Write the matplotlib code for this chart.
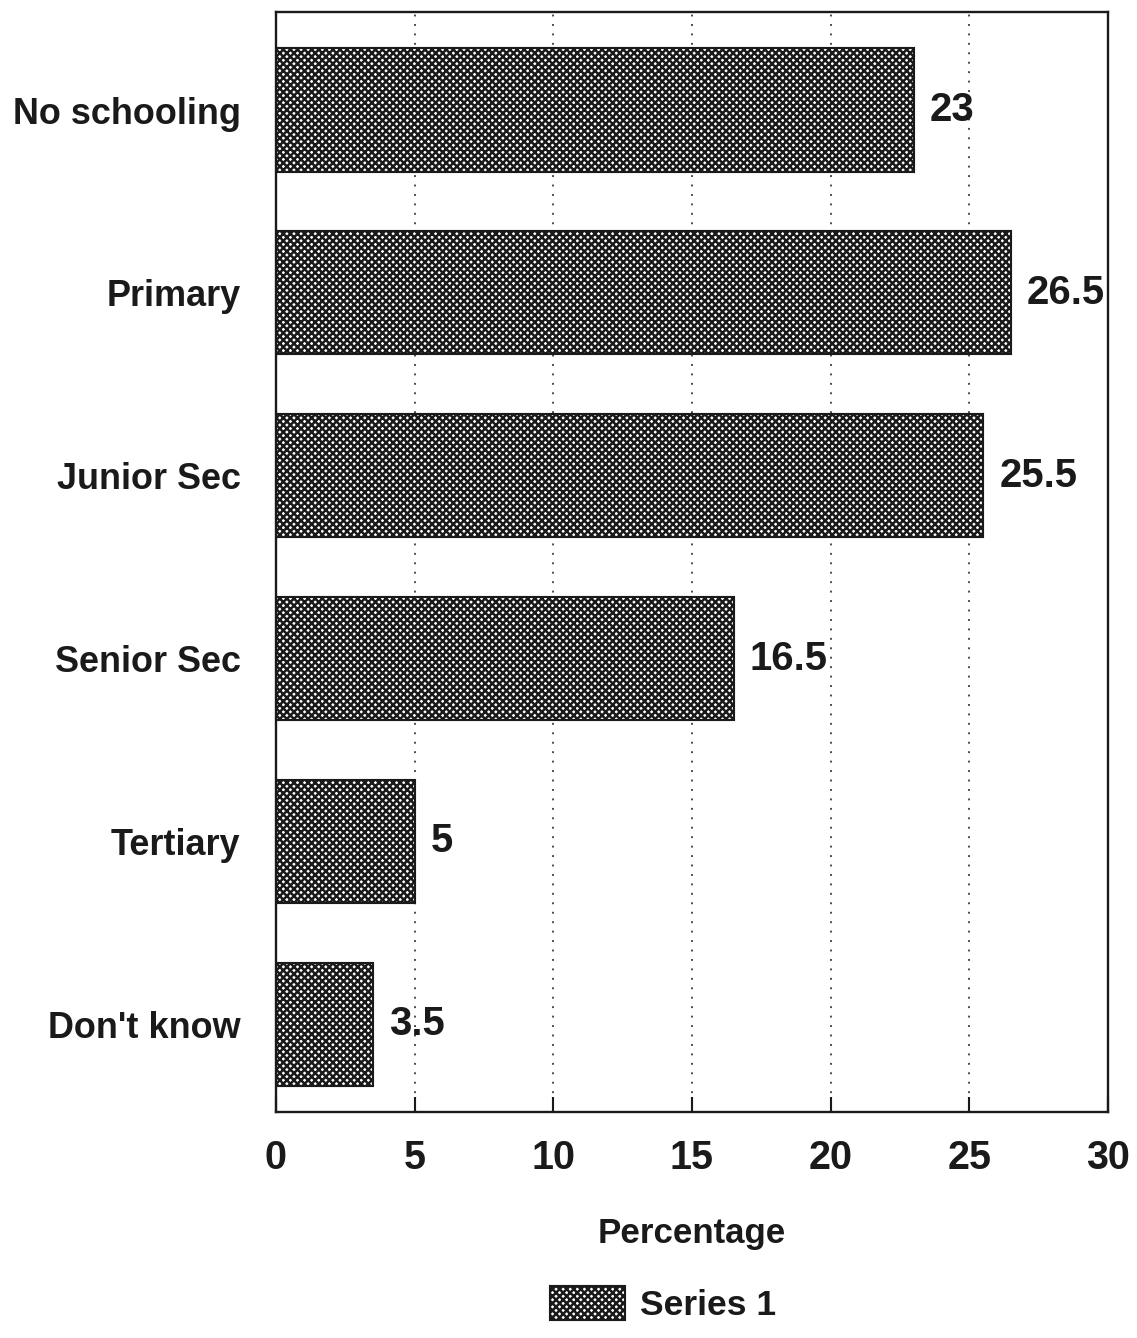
import matplotlib
matplotlib.use("Agg")
import matplotlib.pyplot as plt

categories = ["No schooling", "Primary", "Junior Sec", "Senior Sec", "Tertiary", "Don't know"]
values = [23, 26.5, 25.5, 16.5, 5, 3.5]
xticks = [0, 5, 10, 15, 20, 25, 30]
series_name = "Series 1"
x_label = "Percentage"

DPI = 85
INK = "#1a1a1a"
plt.rcParams["font.family"] = ["Liberation Sans", "DejaVu Sans"]
plt.rcParams["font.weight"] = "bold"
plt.rcParams["hatch.linewidth"] = 2.1

fig = plt.figure(figsize=(1137 / DPI, 1338 / DPI), dpi=DPI)
ax = fig.add_axes([276 / 1137, 1 - 1112 / 1338, (1108 - 276) / 1137, (1112 - 12) / 1338])

ypos = list(range(len(categories)))
bars = ax.barh(ypos, values, height=0.673, color="white", edgecolor=INK,
               hatch="xxxx", linewidth=1.8, label=series_name, zorder=3)

for y, v in zip(ypos, values):
    ax.text(v + 0.58, y, f"{v:g}", va="center", ha="left",
            fontsize=34, fontweight="bold", color=INK, zorder=4)

ax.set_xlim(0, 30)
ax.set_ylim(len(categories) - 1 + 0.48, -0.536)
ax.set_xticks(xticks)
ax.set_xticklabels([str(t) for t in xticks], fontsize=33.5, fontweight="bold", color=INK)
ax.set_yticks(ypos)
ax.set_yticklabels(categories, fontsize=30.5, fontweight="bold", color=INK)

ax.tick_params(axis="x", direction="in", length=13, width=1.8, pad=23, color=INK)
ax.tick_params(axis="y", direction="in", length=8, width=1.0, pad=30, color=INK)

for xv in xticks[1:-1]:
    ax.axvline(xv, color="#444444", linestyle=(0, (1, 4)), linewidth=1.6, zorder=1)

for s in ax.spines.values():
    s.set_linewidth(2.0)
    s.set_color(INK)

ax.set_xlabel(x_label, fontsize=29.5, fontweight="bold", color=INK)
ax.xaxis.set_label_coords(0.5, -0.095)
ax.xaxis.label.set_va("top")

leg = fig.legend(handles=[bars], labels=[series_name], loc="lower center",
                 bbox_to_anchor=(663 / 1137, -0.004), frameon=False,
                 prop={"size": 30, "weight": "bold"},
                 handlelength=2.1, handleheight=1.1, handletextpad=0.42,
                 borderpad=0.1)
for t in leg.get_texts():
    t.set_color(INK)

fig.savefig("out.png", dpi=DPI, facecolor="white")
